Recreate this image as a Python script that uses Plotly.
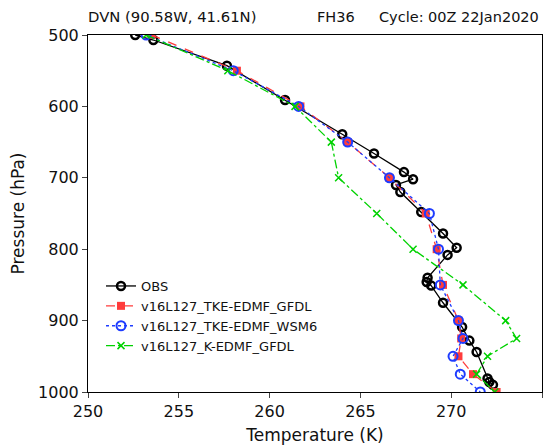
import plotly.graph_objects as go

# OBS sounding
obs_t = [252.6, 253.6, 257.65, 260.85, 264.0, 265.75, 267.4, 267.9, 266.96, 267.2, 268.35,
         269.55, 270.3, 269.8, 268.7, 268.65, 268.9, 269.55, 270.6, 271.0, 271.4, 272.0, 272.1, 272.3]
obs_p = [500, 507, 543, 591, 639, 666, 692, 702, 710, 720, 748,
         778, 798, 808, 840, 846, 851, 875, 909, 928, 944, 981, 986, 990]

# model levels
lev = [500, 550, 600, 650, 700, 750, 800, 850, 900, 925, 950, 975, 1000]
tke_gfdl = [253.5, 258.2, 261.7, 264.3, 266.6, 268.6, 269.2, 269.55, 270.4, 270.55, 270.4, 271.2, 272.5]
tke_wsm6 = [253.2, 258.0, 261.6, 264.3, 266.6, 268.8, 269.3, 269.4, 270.4, 270.65, 270.1, 270.5, 271.6]
k_gfdl = [253.2, 257.7, 261.4, 263.4, 263.8, 265.9, 267.9, 270.65, 273.0, 273.6, 272.0, 271.4, 272.4]

xticks = [250, 255, 260, 265, 270, 275]
yticks = [500, 600, 700, 800, 900, 1000]

FONT = "DejaVu Sans"
fig = go.Figure()
fig.add_trace(go.Scatter(x=obs_t, y=obs_p, name="OBS", mode="lines+markers",
                         line=dict(color="black", width=1.3),
                         marker=dict(symbol="circle-open", size=8, color="black", line=dict(width=2.5, color="black"))))
fig.add_trace(go.Scatter(x=tke_gfdl, y=lev, name="v16L127_TKE-EDMF_GFDL", mode="lines+markers",
                         line=dict(color="#ff3c3c", width=1.3, dash="dash"),
                         marker=dict(symbol="square", size=8, color="#ff3c3c")))
fig.add_trace(go.Scatter(x=tke_wsm6, y=lev, name="v16L127_TKE-EDMF_WSM6", mode="lines+markers",
                         line=dict(color="#1e3cff", width=1.3, dash="dot"),
                         marker=dict(symbol="circle-open", size=9, color="#1e3cff", line=dict(width=2, color="#1e3cff"))))
fig.add_trace(go.Scatter(x=k_gfdl, y=lev, name="v16L127_K-EDMF_GFDL", mode="lines+markers",
                         line=dict(color="#00d200", width=1.3, dash="dashdot"),
                         marker=dict(symbol="x-thin-open", size=7, color="#00d200", line=dict(width=1.5, color="#00d200"))))

# the page adds an 8px body margin; target pixel positions are in window coordinates
OFF = 8
FW, FH = 556 - OFF, 447 - OFF
L, R, T, B = 88 - OFF, 14, 35 - OFF, 55
W, H = FW - L - R, FH - T - B
def px(x):
    return (x - OFF - L) / W
def py(y):
    return (FH - B - (y - OFF)) / H

fig.update_layout(
    width=FW, height=FH,
    margin=dict(l=L, r=R, t=T, b=B, autoexpand=False),
    paper_bgcolor="white", plot_bgcolor="white",
    font=dict(family=FONT, color="#111", size=14),
    showlegend=True,
    legend=dict(x=px(101), y=py(271), xanchor="left", yanchor="top", bgcolor="rgba(0,0,0,0)",
                font=dict(size=13, family=FONT), tracegroupgap=0, itemwidth=30),
    xaxis=dict(range=[250, 275], tickvals=xticks, ticks="outside", ticklen=5, showgrid=False,
               zeroline=False, showline=True, linecolor="black", linewidth=1, mirror=True,
               automargin=False,
               tickfont=dict(size=16), title=dict(text="Temperature (K)", font=dict(size=17), standoff=8)),
    yaxis=dict(range=[1000, 500], tickvals=yticks, ticks="outside", ticklen=5, showgrid=False,
               zeroline=False, showline=True, linecolor="black", linewidth=1, mirror=True,
               automargin=False,
               tickfont=dict(size=16), title=dict(text="Pressure (hPa)", font=dict(size=17), standoff=10)),
    annotations=[
        dict(text="DVN (90.58W, 41.61N)", x=px(86), y=py(17), xref="paper", yref="paper",
             xanchor="left", yanchor="middle", showarrow=False, font=dict(size=14.8)),
        dict(text="FH36", x=px(315), y=py(17), xref="paper", yref="paper",
             xanchor="left", yanchor="middle", showarrow=False, font=dict(size=14.5)),
        dict(text="Cycle: 00Z 22Jan2020", x=px(377), y=py(17), xref="paper", yref="paper",
             xanchor="left", yanchor="middle", showarrow=False, font=dict(size=14.5)),
    ],
)
fig.write_html("out.html")
